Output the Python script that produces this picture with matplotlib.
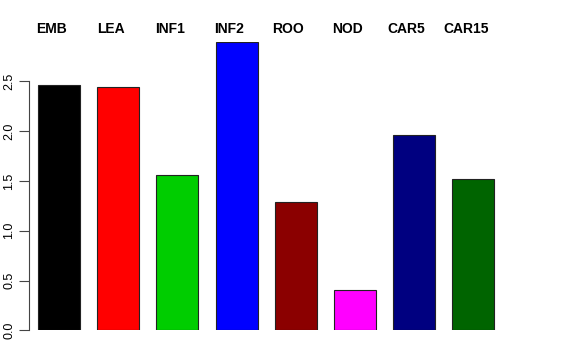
import matplotlib
matplotlib.use('Agg')
import matplotlib.pyplot as plt
import numpy as np

plt.rcParams['font.family'] = ['Liberation Sans', 'DejaVu Sans']

# Categorías y valores
grupos = ['EMB', 'LEA', 'INF1', 'INF2', 'ROO', 'NOD', 'CAR5', 'CAR15']
valores = [2.46, 2.445, 1.56, 2.89, 1.29, 0.405, 1.96, 1.52]
colores = ['#000000', '#FF0000', '#00CD00', '#0000FF', '#8B0000', '#FF00FF', '#000080', '#006400']

W, H = 576, 360
fig = plt.figure(figsize=(W / 100, H / 100), dpi=100)
ax = fig.add_axes([29 / W, 29.7 / H, 511 / W, 288.8 / H])

x = np.arange(len(grupos))
ax.bar(x, valores, width=0.71, color=colores, edgecolor='#222222', linewidth=0.8)

ax.set_xlim(-0.507, 8.125)
ax.set_ylim(0, 2.9)

for s in ['top', 'right', 'bottom']:
    ax.spines[s].set_visible(False)
ax.spines['left'].set_bounds(0, 2.5)
ax.spines['left'].set_color('#444444')
ax.set_xticks([])
ax.set_yticks(np.arange(0, 2.51, 0.5))
ax.set_yticklabels(['0.0', '0.5', '1.0', '1.5', '2.0', '2.5'], rotation=90, va='center')
ax.tick_params(axis='y', length=7, color='#444444', labelsize=9, pad=3)

# Etiquetas en negrita arriba de cada barra
for xi, g in zip(x, grupos):
    ax.text(xi - 0.13, 3.03, g, ha='center', va='center', fontsize=10,
            fontweight='bold', clip_on=False)

fig.savefig('out.png', dpi=100)
